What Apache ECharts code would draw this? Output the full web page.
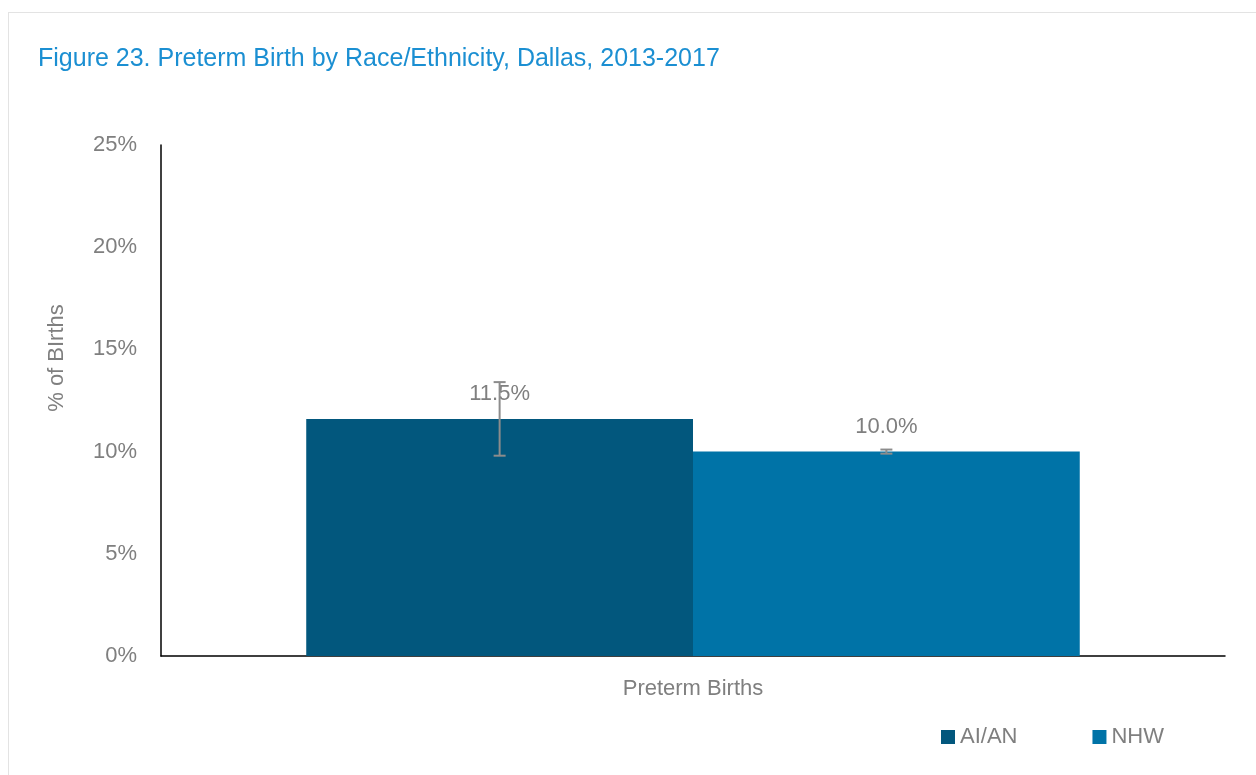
<!DOCTYPE html>
<html><head><meta charset="utf-8">
<script src="https://cdn.jsdelivr.net/npm/echarts@6/dist/echarts.min.js"></script>
<style>
html,body{margin:0;padding:0;background:#fff;}
#frame{position:absolute;left:8px;top:12px;width:1260px;height:780px;border:1px solid #e3e3e3;}
#c{position:absolute;left:0;top:0;width:1256px;height:775px;}
</style></head>
<body><div id="frame"></div><div id="c"></div>
<script>
const categories = ['Preterm Births'];
const seriesNames = ['AI/AN', 'NHW'];
const values = [11.6, 10.0];
const valueLabels = ['11.5%', '10.0%'];
const errLow = [9.8, 9.9];
const errHigh = [13.4, 10.1];
const yTicks = [0, 5, 10, 15, 20, 25];
const yAxisTitle = '% of BIrths';
const colors = ['#02577D', '#0073A7'];

const font = "'Liberation Sans Narrow', 'Arial Narrow', 'Liberation Sans', sans-serif";
const chart = echarts.init(document.getElementById('c'));

const barSeries = seriesNames.map((n, i) => ({
  name: n, type: 'bar', data: [values[i]],
  barGap: '0%', barCategoryGap: '27.3%',
  itemStyle: {color: colors[i]},
  label: {show: true, position: 'top', distance: 14, formatter: () => valueLabels[i],
    color: '#7f7f7f', fontSize: 22, fontFamily: font},
  z: 2
}));

const errSeries = {
  type: 'custom', name: 'err', z: 5, silent: true,
  data: seriesNames.map((n, i) => [i, errLow[i], errHigh[i]]),
  renderItem: function (params, api) {
    const idx = api.value(0);
    const lo = api.coord([0, api.value(1)]);
    const hi = api.coord([0, api.value(2)]);
    const size = api.size([1, 0]);
    const catW = size[0];
    const barW = catW * (1 - 0.273) / 2;
    const x = lo[0] - barW / 2 + idx * barW;
    const cap = 6;
    const st = {stroke: '#8c8c8c', lineWidth: 2};
    return {type: 'group', children: [
      {type: 'line', shape: {x1: x, y1: hi[1], x2: x, y2: lo[1]}, style: st},
      {type: 'line', shape: {x1: x - cap, y1: hi[1], x2: x + cap, y2: hi[1]}, style: st},
      {type: 'line', shape: {x1: x - cap, y1: lo[1], x2: x + cap, y2: lo[1]}, style: st}
    ]};
  }
};

chart.setOption({
  animation: false,
  title: {text: 'Figure 23. Preterm Birth by Race/Ethnicity, Dallas, 2013-2017', left: 33, top: 42,
    textStyle: {color: '#1B8FD2', fontSize: 25, fontWeight: 'normal', fontFamily: font}},
  legend: {data: seriesNames, right: 87, bottom: 22, itemWidth: 14, itemHeight: 14, itemGap: 75,
    icon: 'rect', textStyle: {color: '#7f7f7f', fontSize: 22, fontFamily: font}},
  grid: {left: 161, right: 31, top: 145, bottom: 119},
  graphic: [{type: 'text', x: 57, y: 358, rotation: Math.PI / 2,
    style: {text: yAxisTitle, fill: '#7f7f7f', fontSize: 22, fontFamily: font,
      align: 'center', verticalAlign: 'middle'}}],
  xAxis: {type: 'category', data: categories,
    axisLine: {lineStyle: {color: '#000', width: 1.5}}, axisTick: {show: false},
    axisLabel: {color: '#7f7f7f', fontSize: 22, fontFamily: font, margin: 22}},
  yAxis: {type: 'value', min: 0, max: 25, interval: 5,
    axisLine: {show: true, lineStyle: {color: '#000', width: 1.5}}, axisTick: {show: false},
    splitLine: {show: false},
    axisLabel: {color: '#7f7f7f', fontSize: 22, fontFamily: font, margin: 24,
      formatter: v => yTicks.includes(v) ? v + '%' : ''}},
  series: [...barSeries, errSeries]
});
</script></body></html>
